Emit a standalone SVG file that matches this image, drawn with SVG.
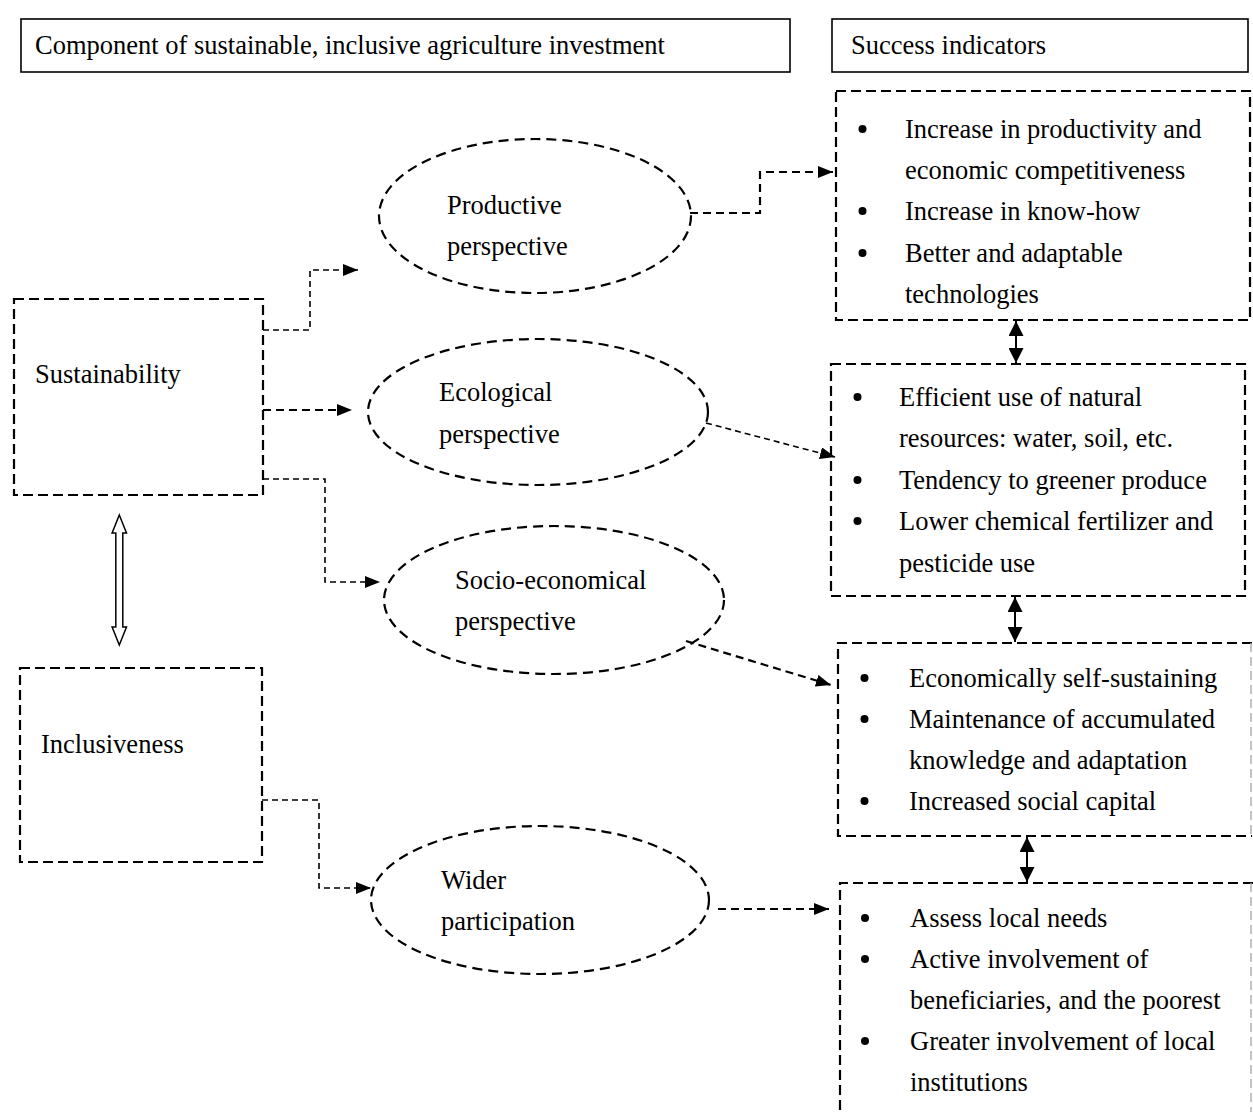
<svg xmlns="http://www.w3.org/2000/svg" width="1253" height="1112" viewBox="0 0 1253 1112">
<style>
text{font-family:"Liberation Serif","Times New Roman",serif;font-size:26.5px;fill:#000}
.hdr{fill:#fff;stroke:#000;stroke-width:1.6}
.box{fill:none;stroke:#000;stroke-width:2.2;stroke-dasharray:10 5}
.faint{fill:none;stroke:#b0b0b0;stroke-width:1.5;stroke-dasharray:9 5}
.ell{fill:none;stroke:#000;stroke-width:2.2;stroke-dasharray:10 6}
.thin{fill:none;stroke:#000;stroke-width:1.6;stroke-dasharray:6 4}
.thick{fill:none;stroke:#000;stroke-width:2.2;stroke-dasharray:8 5}
.dbl{fill:none;stroke:#000;stroke-width:2}
.bul{fill:#000}
</style>
<defs>
<marker id="ah" viewBox="0 0 15 12" refX="15" refY="6" markerWidth="15" markerHeight="12" markerUnits="userSpaceOnUse" orient="auto">
<path d="M0,0 L15,6 L0,12 Z" fill="#000"/>
</marker>
<marker id="dh" viewBox="0 0 14 14" refX="14" refY="7" markerWidth="15" markerHeight="15" markerUnits="userSpaceOnUse" orient="auto-start-reverse">
<path d="M0,0 L14,7 L0,14 Z" fill="#000"/>
</marker>
</defs>

<g id="header-component">
<rect class="hdr" x="21" y="19" width="769" height="53"/>
<text x="35" y="54">Component of sustainable, inclusive agriculture investment</text>
</g>
<g id="header-success">
<rect class="hdr" x="832" y="19" width="416" height="53"/>
<text x="851" y="54">Success indicators</text>
</g>

<g id="sustainability">
<rect class="box" x="14" y="299" width="249" height="196"/>
<text x="35" y="383">Sustainability</text>
</g>
<g id="inclusiveness">
<rect class="box" x="20" y="668" width="242" height="194"/>
<text x="41" y="753">Inclusiveness</text>
</g>

<g id="productive">
<ellipse class="ell" cx="535" cy="216" rx="156" ry="77"/>
<text x="447" y="214">Productive</text>
<text x="447" y="255">perspective</text>
</g>
<g id="ecological">
<ellipse class="ell" cx="538" cy="412" rx="170" ry="73"/>
<text x="439" y="401">Ecological</text>
<text x="439" y="443">perspective</text>
</g>
<g id="socio">
<ellipse class="ell" cx="554" cy="600" rx="170" ry="74"/>
<text x="455" y="589">Socio-economical</text>
<text x="455" y="630">perspective</text>
</g>
<g id="wider">
<ellipse class="ell" cx="540" cy="900" rx="169" ry="74"/>
<text x="441" y="889">Wider</text>
<text x="441" y="930">participation</text>
</g>

<g id="ind-productive">
<rect class="box" x="836" y="91" width="414" height="229"/>
<circle class="bul" cx="862.5" cy="129" r="4"/>
<circle class="bul" cx="862.5" cy="211" r="4"/>
<circle class="bul" cx="862.5" cy="253" r="4"/>
<text x="905" y="138">Increase in productivity and</text>
<text x="905" y="179">economic competitiveness</text>
<text x="905" y="220">Increase in know-how</text>
<text x="905" y="262">Better and adaptable</text>
<text x="905" y="303">technologies</text>
</g>
<g id="ind-ecological">
<rect class="box" x="831" y="364" width="414" height="232"/>
<circle class="bul" cx="857.5" cy="397" r="4"/>
<circle class="bul" cx="857.5" cy="480" r="4"/>
<circle class="bul" cx="857.5" cy="521" r="4"/>
<text x="899" y="406">Efficient use of natural</text>
<text x="899" y="447">resources: water, soil, etc.</text>
<text x="899" y="489">Tendency to greener produce</text>
<text x="899" y="530">Lower chemical fertilizer and</text>
<text x="899" y="572">pesticide use</text>
</g>
<g id="ind-socio">
<path class="box" d="M1252,643 H838 V836 H1252"/>
<line class="faint" x1="1251" y1="643" x2="1251" y2="836"/>
<circle class="bul" cx="864.5" cy="678" r="4"/>
<circle class="bul" cx="864.5" cy="719" r="4"/>
<circle class="bul" cx="864.5" cy="801" r="4"/>
<text x="909" y="687">Economically self-sustaining</text>
<text x="909" y="728">Maintenance of accumulated</text>
<text x="909" y="769">knowledge and adaptation</text>
<text x="909" y="810">Increased social capital</text>
</g>
<g id="ind-wider">
<path class="box" d="M1253,883 H840 V1112"/>
<line class="faint" x1="1251" y1="883" x2="1251" y2="1112"/>
<circle class="bul" cx="865" cy="918" r="4"/>
<circle class="bul" cx="865" cy="959" r="4"/>
<circle class="bul" cx="865" cy="1041" r="4"/>
<text x="910" y="927">Assess local needs</text>
<text x="910" y="968">Active involvement of</text>
<text x="910" y="1009">beneficiaries, and the poorest</text>
<text x="910" y="1050">Greater involvement of local</text>
<text x="910" y="1091">institutions</text>
</g>

<g id="connectors">
<path class="thin" d="M263,330 H310 V270 H358" marker-end="url(#ah)"/>
<path class="thick" d="M263,410 H352" marker-end="url(#ah)"/>
<path class="thin" d="M263,479 H325 V582 H380" marker-end="url(#ah)"/>
<path class="thin" d="M262,800 H319 V888 H371" marker-end="url(#ah)"/>
<path class="thick" d="M690,213 H760 V172 H833" marker-end="url(#ah)"/>
<path class="thin" d="M706,423 L835,457" marker-end="url(#ah)"/>
<path class="thick" d="M686,641 L831,685" marker-end="url(#ah)"/>
<path class="thick" d="M718,909 H829" marker-end="url(#ah)"/>
<line class="dbl" x1="1016" y1="321" x2="1016" y2="363" marker-start="url(#dh)" marker-end="url(#dh)"/>
<line class="dbl" x1="1015" y1="597" x2="1015" y2="642" marker-start="url(#dh)" marker-end="url(#dh)"/>
<line class="dbl" x1="1027" y1="837" x2="1027" y2="882" marker-start="url(#dh)" marker-end="url(#dh)"/>
<path d="M119.3,515 L126.5,533 L122.8,533 L122.8,627 L126.5,627 L119.3,645 L112.1,627 L115.8,627 L115.8,533 L112.1,533 Z" fill="#fff" stroke="#000" stroke-width="1.5" stroke-linejoin="miter"/>
</g>
</svg>
